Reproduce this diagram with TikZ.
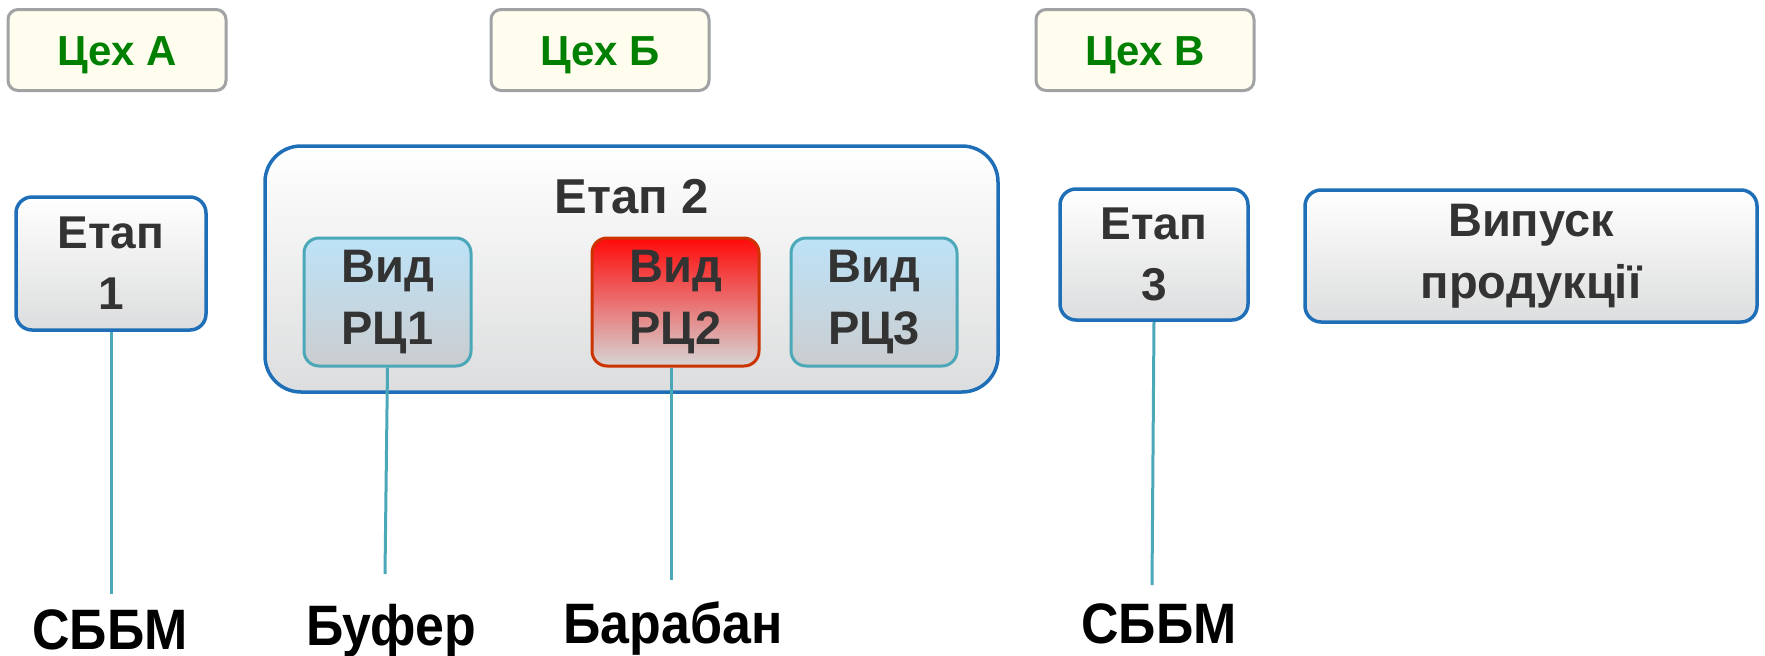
\documentclass[tikz,border=0pt]{standalone}
\usepackage{fontspec}
\setmainfont{Liberation Sans}
\newfontfamily\narrowf{Liberation Sans}[FakeStretch=0.91]
\definecolor{tsehfill}{HTML}{FFFDEE}
\definecolor{tsehdraw}{HTML}{A0A2A4}
\definecolor{tsehtext}{HTML}{008000}
\definecolor{bluedraw}{HTML}{1F6FB8}
\definecolor{tealc}{HTML}{4BA8B8}
\definecolor{boxtext}{HTML}{333333}
\definecolor{graybot}{HTML}{DCDDDE}
\definecolor{bluetop}{HTML}{BDE2F7}
\definecolor{bluebot}{HTML}{CBCDCF}
\definecolor{redtop}{HTML}{FF0A0A}
\definecolor{redbot}{HTML}{D6D6D6}
\definecolor{reddraw}{HTML}{CC3300}
\begin{document}
\begin{tikzpicture}[x=1pt,y=-1pt,
  tseh/.style={draw=tsehdraw,line width=3pt,fill=tsehfill,rounded corners=10pt,
    minimum width=218pt,minimum height=81pt,inner sep=0pt,
    text height=30pt,text depth=0pt,
    font=\fontsize{42}{46}\selectfont\bfseries,text=tsehtext},
  etapbox/.style={draw=bluedraw,line width=3.5pt,rounded corners=16pt,
    top color=white,bottom color=graybot,inner sep=0pt,align=center,
    font=\fontsize{46}{61}\selectfont\bfseries,text=boxtext},
  rcbox/.style={draw=tealc,line width=3pt,rounded corners=15pt,
    top color=bluetop,bottom color=bluebot,inner sep=0pt,align=center,
    minimum width=167pt,minimum height=128pt,
    font=\fontsize{47}{62}\selectfont\bfseries,text=boxtext},
  lbl/.style={font=\narrowf\fontsize{57}{66}\selectfont\bfseries,text=black,inner sep=0pt,anchor=base},
  conn/.style={draw=tealc,line width=3pt}]
\useasboundingbox (0,0) rectangle (1765,656);
\node[tseh] (tsehA) at (117,50) {Цех А};
\node[tseh] (tsehB) at (600,50) {Цех Б};
\node[tseh] (tsehV) at (1145,50) {Цех В};
\node[etapbox,minimum width=190pt,minimum height=133pt] (etap1) at (111,263.5) {Етап\\1};
\node[etapbox,minimum width=733pt,minimum height=246pt,rounded corners=36pt] (etap2) at (631.5,269) {};
\node[font=\fontsize{49}{60}\selectfont\bfseries,text=boxtext,inner sep=0pt] (etap2lbl) at (632,197) {Етап 2};
\node[rcbox] (rc1) at (387.5,302) {Вид\\РЦ1};
\node[rcbox,top color=redtop,bottom color=redbot,draw=reddraw] (rc2) at (675.5,302) {Вид\\РЦ2};
\node[rcbox,minimum width=166pt] (rc3) at (874,302) {Вид\\РЦ3};
\node[etapbox,minimum width=188pt,minimum height=131pt] (etap3) at (1154,254.5) {Етап\\3};
\node[etapbox,minimum width=452pt,minimum height=132pt,font=\fontsize{47}{62}\selectfont\bfseries] (vypusk) at (1531,256) {Випуск\\продукції};
\node[lbl,text depth=0pt] (sbbm1) at (110,649) {СББМ};
\node[lbl] (bufer) at (391,645) {Буфер};
\node[lbl] (baraban) at (673,643) {Барабан};
\node[lbl] (sbbm2) at (1159,643) {СББМ};
\coordinate (e1) at (111,594);
\coordinate (e2) at (385,574);
\coordinate (e3) at (671,580);
\coordinate (e4) at (1152,585);
\draw[conn] (etap1.south) -- (e1);
\draw[conn] (rc1.south) -- (e2);
\draw[conn] (rc2.south -| e3) -- (e3);
\draw[conn] (etap3.south) -- (e4);
\end{tikzpicture}
\end{document}
